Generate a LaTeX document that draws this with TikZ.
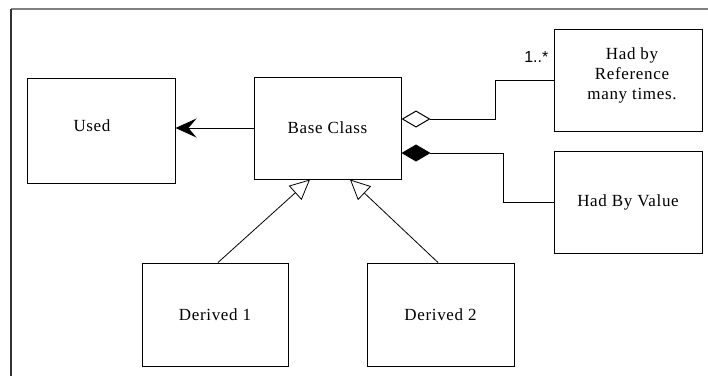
\documentclass[tikz,border=0pt]{standalone}
\usepackage{fontspec}
\setmainfont[LetterSpace=4]{Liberation Serif}
\newfontfamily\labelfont{Liberation Sans}
\usetikzlibrary{arrows.meta,calc}
\begin{document}
\begin{tikzpicture}[x=1pt,y=-1pt,
  classfont/.style={font=\fontsize{17}{20}\selectfont,align=center},
  cls/.style={draw,line width=1pt,minimum width=#1,inner sep=0pt,classfont},
  gen/.style={line width=0.8pt,-{Triangle[open,length=20pt,width=19pt,fill=white]}},
  uses/.style={line width=1pt,-{Stealth[length=21pt,width=19pt,inset=8pt]}},
  aggr/.style={line width=1pt,{Diamond[open,length=29pt,width=17pt,fill=white]}-},
  comp/.style={line width=1pt,{Diamond[length=29pt,width=17pt]}-}
]
\useasboundingbox (0,0) rectangle (708,376);
% frame
\draw[gray,line width=2pt] (11,9) -- (708,9);
\draw[black!80,line width=1.2pt] (11,9) -- (11,376);

% classes
\node[cls=148pt,minimum height=105pt,
      label={[classfont,xshift=-9pt,yshift=5pt]center:Used}] (used) at (101,130.5) {};
\node[cls=147pt,minimum height=102pt] (base) at (327.5,128) {Base Class};
\node[cls=148pt,minimum height=102pt,
      label={[classfont,xshift=4pt,yshift=5pt]center:Had by\\Reference\\many times.}] (ref) at (628,80) {};
\node[cls=148pt,minimum height=102pt] (val) at (628,202) {Had By Value};
\node[cls=146pt,minimum height=103pt] (d1) at (215,314.5) {Derived 1};
\node[cls=147pt,minimum height=103pt] (d2) at (440.5,314.5) {Derived 2};

% associations
\draw[uses] (base.west) -- (base.west -| used.east);
\draw[aggr] ([yshift=9pt]base.east) -- ++(94pt,0) |- (ref.west);
\draw[comp] ([yshift=-25pt]base.east) -- ++(102pt,0) |- (val.west);
\node[font=\labelfont\fontsize{16}{18}\selectfont,anchor=base east,inner sep=0pt] (mult) at ([xshift=-5pt,yshift=18pt]ref.west) {1..*};

% generalisations
\draw[gen] ([xshift=3pt]d1.north) -- ([xshift=-17.5pt]base.south);
\draw[gen] ([xshift=-2.5pt]d2.north) -- ([xshift=22.5pt]base.south);
\end{tikzpicture}
\end{document}
